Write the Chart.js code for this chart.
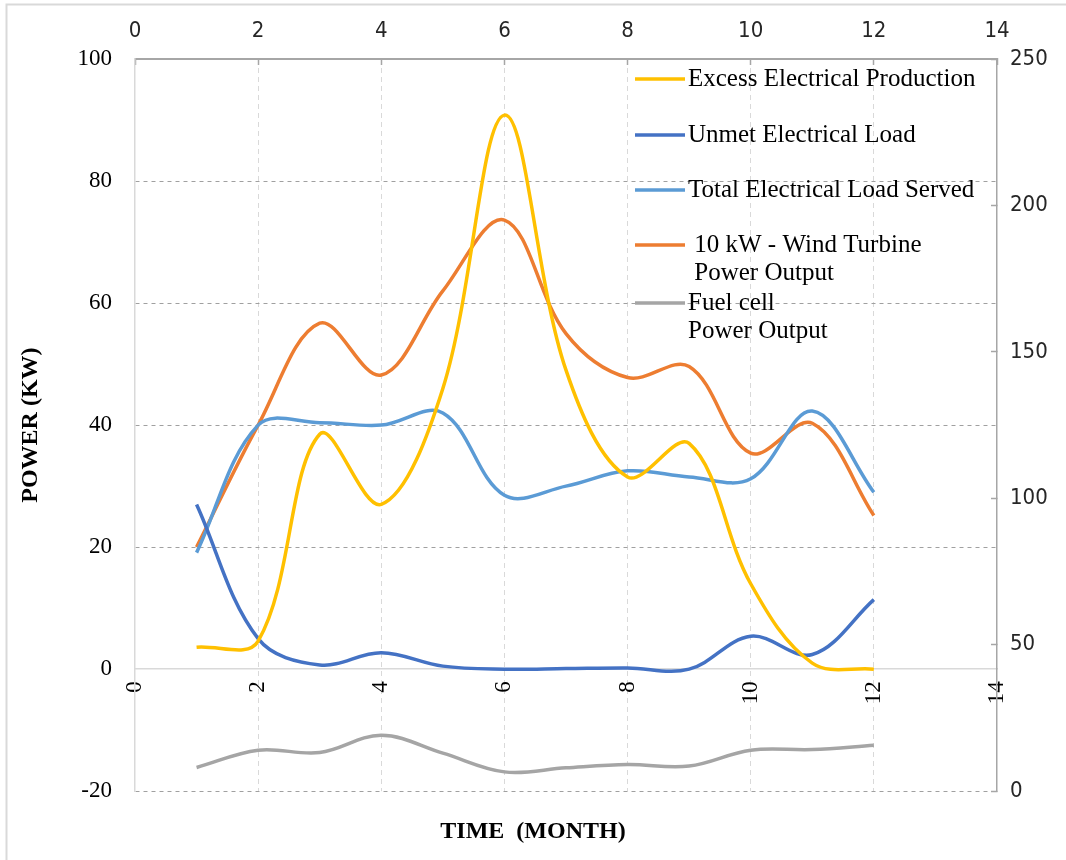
<!DOCTYPE html>
<html>
<head>
<meta charset="utf-8">
<script src="https://cdn.jsdelivr.net/npm/chart.js@4.4.1/dist/chart.umd.min.js"></script>
<style>
  html, body { margin: 0; padding: 0; background: #ffffff; }
  #wrap { position: relative; width: 1066px; height: 860px; }
</style>
</head>
<body>
<div id="wrap"><canvas id="chart" width="1066" height="860"></canvas></div>
<script>
// Monthly power profile of the hybrid system
const months = [1, 2, 3, 4, 5, 6, 7, 8, 9, 10, 11, 12];
const excessProduction = [3.6, 4.6, 38.5, 27, 46, 90.8, 49, 31.5, 37, 14, 1, 0];
const unmetLoad       = [27, 5, 0.7, 2.7, 0.5, 0, 0.1, 0.2, 0, 5.4, 2.4, 11.4];
const loadServed      = [19.1, 40, 40.4, 40, 42, 28.5, 30, 32.5, 31.5, 31.2, 42.3, 29];
const windOutput      = [20, 40, 56.7, 48.2, 62, 73.6, 55, 47.8, 49.6, 35.4, 40.3, 25.2];
const fuelCellOutput  = [8.1, 14, 13.2, 19.1, 13, 6.6, 8, 9.1, 8.6, 14, 14.2, 15.7];

const seriesNames = [
  ['Excess Electrical Production'],
  ['Unmet Electrical Load'],
  ['Total Electrical Load Served'],
  [' 10 kW - Wind Turbine', ' Power Output'],
  ['Fuel cell', 'Power Output']
];
const seriesColors = ['#FFC000', '#4472C4', '#5B9BD5', '#ED7D31', '#A5A5A5'];

const monthTicks = [0, 2, 4, 6, 8, 10, 12, 14];
const powerTicks = [-20, 0, 20, 40, 60, 80, 100];
const rightTicks = [0, 50, 100, 150, 200, 250];

const SERIF = '"Liberation Serif", "Times New Roman", serif';
const NARROW = '"Liberation Sans Narrow", "Arial Narrow", "DejaVu Sans Condensed", sans-serif';

const toPoints = arr => months.map((m, i) => ({ x: m, y: arr[i] }));
const setTicks = list => scale => { scale.ticks = list.map(v => ({ value: v })); };
const hideAt = (vals, col) => c => (c.tick && vals.includes(c.tick.value)) ? 'rgba(0,0,0,0)' : col;

const seriesData = [excessProduction, unmetLoad, loadServed, windOutput, fuelCellOutput];
const datasets = seriesData.map((arr, i) => ({
  label: seriesNames[i].join(' ').trim(),
  data: toPoints(arr),
  borderColor: seriesColors[i],
  backgroundColor: seriesColors[i],
  borderWidth: 3.5,
  pointRadius: 0,
  tension: 0.36,
  fill: false,
  xAxisID: 'x',
  yAxisID: i === 4 ? 'y2' : 'y'
}));

// outer frame of the chart
const framePlugin = {
  id: 'frame',
  beforeDraw(chart) {
    const ctx = chart.ctx;
    ctx.save();
    ctx.fillStyle = '#ffffff';
    ctx.fillRect(0, 0, chart.width, chart.height);
    ctx.strokeStyle = '#d9d9d9';
    ctx.lineWidth = 2;
    ctx.beginPath();
    ctx.moveTo(6.5, chart.height);
    ctx.lineTo(6.5, 4.5);
    ctx.lineTo(chart.width, 4.5);
    ctx.stroke();
    ctx.restore();
  }
};

// legend drawn inside the plot, at its upper right
const insideLegend = {
  id: 'insideLegend',
  afterDraw(chart) {
    const ctx = chart.ctx;
    const rowY = [79, 135, 190, 245, 303];
    const lineGap = 28;
    const x0 = 635, x1 = 685, tx = 688;
    ctx.save();
    ctx.font = '25px ' + SERIF;
    ctx.textBaseline = 'middle';
    ctx.textAlign = 'left';
    chart.data.datasets.forEach((ds, i) => {
      const y = rowY[i];
      ctx.strokeStyle = ds.borderColor;
      ctx.lineWidth = 3.5;
      ctx.beginPath();
      ctx.moveTo(x0, y);
      ctx.lineTo(x1, y);
      ctx.stroke();
      ctx.fillStyle = '#000000';
      seriesNames[i].forEach((line, k) => {
        ctx.fillText(line, tx, y + k * lineGap);
      });
    });
    ctx.restore();
  }
};

new Chart(document.getElementById('chart'), {
  type: 'line',
  data: { datasets },
  options: {
    responsive: false,
    animation: false,
    devicePixelRatio: 1,
    layout: { padding: 0 },
    plugins: {
      legend: { display: false },
      tooltip: { enabled: false },
      title: {
        display: true,
        text: 'TIME  (MONTH)',
        position: 'bottom',
        color: '#000000',
        font: { family: SERIF, size: 24, weight: 'bold' },
        padding: { top: 26, bottom: 14 }
      }
    },
    scales: {
      x: {
        type: 'linear',
        position: { y: 0 },
        min: 0, max: 14,
        afterBuildTicks: setTicks(monthTicks),
        ticks: {
          autoSkip: false, minRotation: 90, maxRotation: 90, padding: 12,
          color: '#000000', font: { family: SERIF, size: 23 }
        },
        grid: { drawTicks: false, lineWidth: 1, color: hideAt([0, 14], '#d9d9d9') },
        border: { display: true, color: '#d9d9d9', width: 1.5, dash: [5, 4] }
      },
      x2: {
        type: 'linear',
        position: 'top',
        min: 0, max: 14,
        afterBuildTicks: setTicks(monthTicks),
        afterFit: s => { s.height = 59; },
        ticks: {
          autoSkip: false, maxRotation: 0, padding: 21,
          color: '#262626', font: { family: NARROW, size: 22 }
        },
        grid: { drawOnChartArea: false, drawTicks: true, tickLength: -6, tickColor: '#a6a6a6', tickWidth: 1.5 },
        border: { display: true, color: '#a6a6a6', width: 2 }
      },
      y: {
        type: 'linear',
        position: 'left',
        min: -20, max: 100,
        afterBuildTicks: setTicks(powerTicks),
        afterFit: s => { s.width = 135; },
        ticks: { padding: 23, color: '#000000', font: { family: SERIF, size: 23 } },
        grid: { drawTicks: false, lineWidth: 1, color: hideAt([0, 100], '#a0a0a0') },
        border: { display: true, color: '#d9d9d9', width: 1.5, dash: [4, 4] },
        title: {
          display: true,
          text: 'POWER (KW)',
          color: '#000000',
          font: { family: SERIF, size: 24, weight: 'bold' },
          padding: { top: 16, bottom: 0 }
        }
      },
      y2: {
        type: 'linear',
        position: 'right',
        min: 0, max: 250,
        afterBuildTicks: setTicks(rightTicks),
        afterFit: s => { s.width = 69; },
        ticks: { padding: 19, color: '#262626', font: { family: NARROW, size: 22 } },
        grid: { drawOnChartArea: false, drawTicks: true, tickLength: -6, tickColor: '#a6a6a6', tickWidth: 1.5 },
        border: { display: true, color: '#a6a6a6', width: 1.5 }
      }
    }
  },
  plugins: [framePlugin, insideLegend]
});
</script>
</body>
</html>
